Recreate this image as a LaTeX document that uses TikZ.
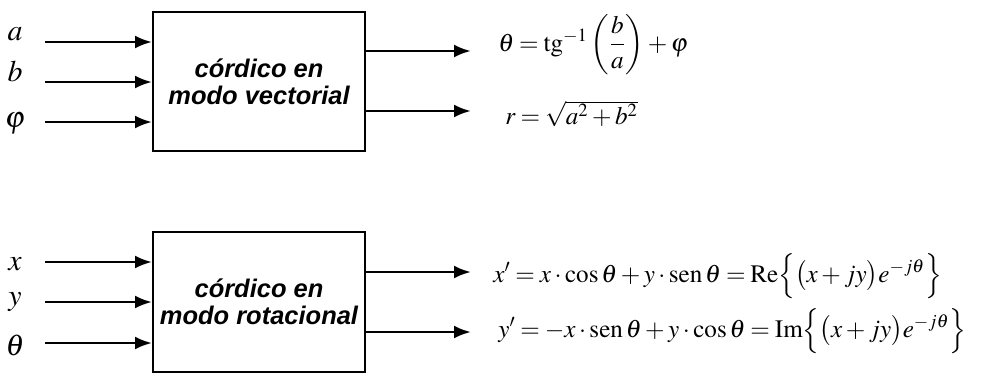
\documentclass[tikz,border=0pt]{standalone}
\usepackage{amsmath}
\usepackage{mathptmx}
\usepackage[no-math]{fontspec}
\newfontfamily\bloquefont{Liberation Sans}
\newcommand{\apretar}{\medmuskip=2.5mu\relax\thickmuskip=3.5mu\relax}
\usetikzlibrary{arrows.meta}
\tikzset{
  bloque/.style={draw, line width=1.1pt, minimum width=4.24cm, inner sep=0pt, align=center,
    font=\bloquefont\bfseries\itshape\fontsize{14.5}{15.5}\selectfont},
  flecha/.style={line width=1.6pt, -{Latex[length=3.4mm,width=2.6mm]}},
  ent/.style={anchor=base, inner sep=0pt, font=\fontsize{17}{20}\selectfont},
  sal/.style={anchor=base west, inner sep=0pt, font=\fontsize{14.3}{17}\selectfont},
}

\begin{document}
\begin{tikzpicture}[x=0.02cm, y=-0.02cm]
  \useasboundingbox (0,0) rectangle (990,373);

  % modo vectorial
  \node[bloque, minimum height=2.78cm] (vect) at (259,81.5) {córdico en\\modo vectorial};
  \foreach \n/\y/\b/\t in {a/42/40/a, b/82/81/b, phi/122/127/\varphi} {
    \node[ent] (l\n) at (15,\b) {$\t$};
    \coordinate (e\n) at (45,\y);
    \draw[flecha] (e\n) -- (e\n -| vect.west);
  }
  \coordinate (stheta) at (471,51);
  \coordinate (sr) at (471,111);
  \draw[flecha] (vect.east |- stheta) -- (stheta);
  \draw[flecha] (vect.east |- sr) -- (sr);
  \node[sal] (eqtheta) at (498,51) {$\apretar\theta = \mathrm{tg}^{-1}\left(\dfrac{b}{a}\right) + \varphi$};
  \node[sal] (eqr) at (505,124) {$\apretar r = \sqrt{a^2 + b^2}$};

  % modo rotacional
  \node[bloque, minimum height=2.8cm] (rot) at (259,302) {córdico en\\modo rotacional};
  \foreach \n/\y/\b/\t in {x/262/270/x, y/302/305/y, theta/343/355/\theta} {
    \node[ent] (l\n) at (15,\b) {$\t$};
    \coordinate (e\n) at (45,\y);
    \draw[flecha] (e\n) -- (e\n -| rot.west);
  }
  \coordinate (sx) at (471,272);
  \coordinate (sy) at (471,332);
  \draw[flecha] (rot.east |- sx) -- (sx);
  \draw[flecha] (rot.east |- sy) -- (sy);
  \node[sal] (eqx) at (493,282)
    {$\apretar x' = x\cdot\cos\theta + y\cdot\mathrm{sen}\,\theta = \mathrm{Re}\Bigl\{\bigl(x + jy\bigr)e^{-j\theta}\Bigr\}$};
  \node[sal] (eqy) at (498,337)
    {$\apretar y' = -x\cdot\mathrm{sen}\,\theta + y\cdot\cos\theta = \mathrm{Im}\Bigl\{\bigl(x + jy\bigr)e^{-j\theta}\Bigr\}$};
\end{tikzpicture}
\end{document}
